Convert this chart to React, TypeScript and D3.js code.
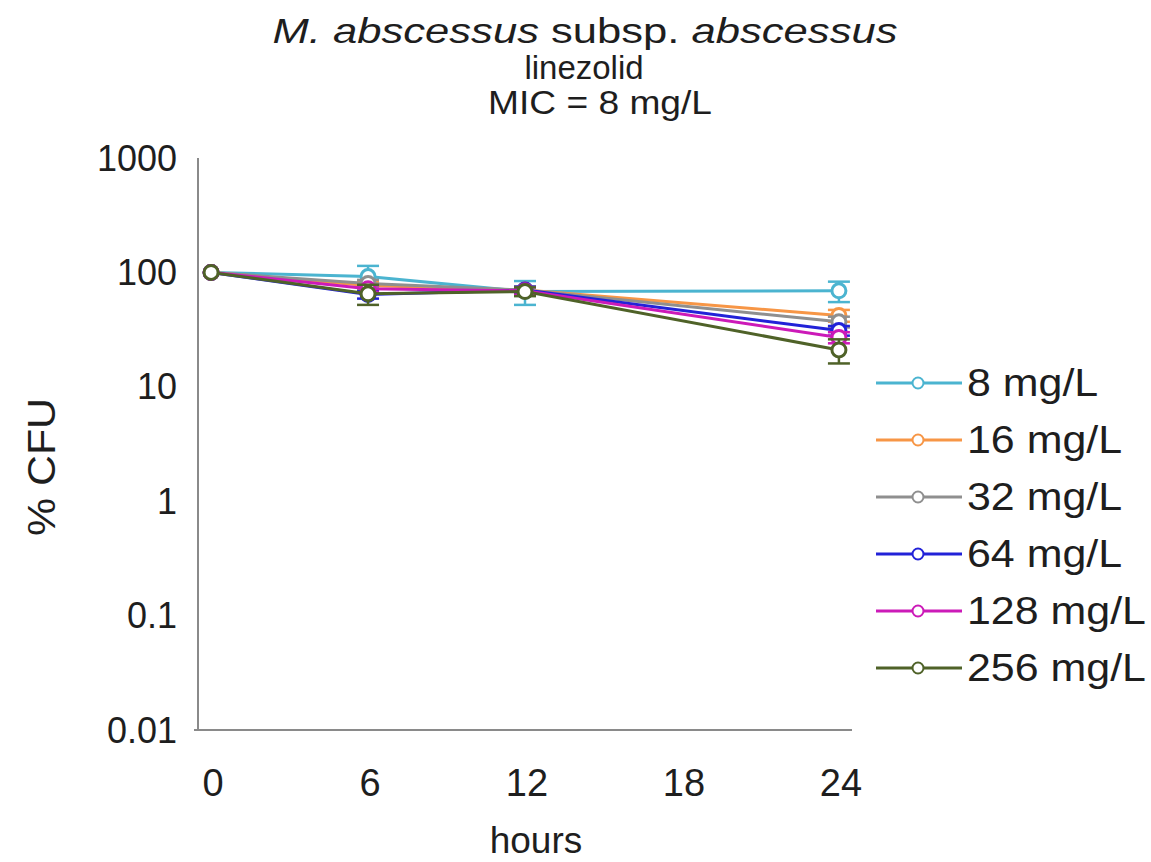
import React from "react";
import * as d3 from "d3";

const hours = [0, 6, 12, 24];
const xTicks = [0, 6, 12, 18, 24];
const yTicks = [0.01, 0.1, 1, 10, 100, 1000];
const yTickLabels = ["0.01", "0.1", "1", "10", "100", "1000"];

const seriesNames = ["8 mg/L", "16 mg/L", "32 mg/L", "64 mg/L", "128 mg/L", "256 mg/L"];
const seriesColors = ["#4bb4d0", "#f79646", "#8f8f8f", "#2222d8", "#cc1ab8", "#4f6228"];

const cfu8 = [100, 92, 68, 69];
const cfu16 = [100, 77, 70, 42];
const cfu32 = [100, 80, 70, 37];
const cfu64 = [100, 64, 70, 31];
const cfu128 = [100, 72, 69, 27];
const cfu256 = [100, 65, 68, 21];

const err8 = [0, 22, 16, 14];
const err16 = [0, 6, 5, 5];
const err32 = [0, 6, 5, 4];
const err64 = [0, 5, 5, 3];
const err128 = [0, 5, 5, 3];
const err256 = [0, 13, 6, 5];

const seriesValues = [cfu8, cfu16, cfu32, cfu64, cfu128, cfu256];
const seriesErrors = [err8, err16, err32, err64, err128, err256];

const FONT = "'Liberation Sans', Arial, sans-serif";
const INK = "#1e1e1e";

export default function App() {
  const W = 1151;
  const H = 862;
  const x = d3.scaleLinear().domain([-0.5, 24.5]).range([198, 852]);
  const y = d3.scaleLog().domain([0.01, 1000]).range([730, 158]);
  const line = d3
    .line<number>()
    .x((_, i) => x(hours[i]))
    .y((d) => y(d));

  const legendX = 876;
  const legendY0 = 383;
  const legendStep = 57;

  return (
    <svg width={W} height={H} style={{ position: "absolute", left: 0, top: 0, background: "#fff" }}>
      <rect width={W} height={H} fill="#fff" />
      {/* Title */}
      <text
        x={585}
        y={43}
        textAnchor="middle"
        fontFamily={FONT}
        fontSize={35}
        fill={INK}
        textLength={625}
        lengthAdjust="spacingAndGlyphs"
      >
        <tspan fontStyle="italic">M. abscessus</tspan>
        <tspan> subsp. </tspan>
        <tspan fontStyle="italic">abscessus</tspan>
      </text>
      <text x={584} y={79} textAnchor="middle" fontFamily={FONT} fontSize={33} fill={INK}>
        linezolid
      </text>
      <text x={600} y={114} textAnchor="middle" fontFamily={FONT} fontSize={33} fill={INK} textLength={224} lengthAdjust="spacingAndGlyphs">
        MIC = 8 mg/L
      </text>

      {/* Axes */}
      <line x1={x(-0.5)} x2={x(-0.5)} y1={y(1000)} y2={y(0.01)} stroke="#8a8a8a" strokeWidth={2} />
      <line x1={x(-0.5) - 4} x2={x(24.5)} y1={y(0.01)} y2={y(0.01)} stroke="#8a8a8a" strokeWidth={2} />

      {yTicks.map((t, i) => (
        <text key={t} x={177} y={y(t)} dy="0.35em" textAnchor="end" fontFamily={FONT} fontSize={36} fill={INK}>
          {yTickLabels[i]}
        </text>
      ))}
      {xTicks.map((t) => (
        <text key={t} x={x(t) + 2} y={796} textAnchor="middle" fontFamily={FONT} fontSize={38} fill={INK}>
          {t}
        </text>
      ))}
      <text x={536} y={853} textAnchor="middle" fontFamily={FONT} fontSize={37} fill={INK}>
        hours
      </text>
      <text
        transform={`translate(55, 467) rotate(-90)`}
        textAnchor="middle"
        fontFamily={FONT}
        fontSize={38}
        fill={INK}
        textLength={138}
        lengthAdjust="spacingAndGlyphs"
      >
        % CFU
      </text>

      {/* Series */}
      {seriesValues.map((vals, s) => (
        <g key={s}>
          <path d={line(vals) || ""} fill="none" stroke={seriesColors[s]} strokeWidth={3} />
          {vals.map((v, i) => {
            const e = seriesErrors[s][i];
            if (!e) return null;
            const cx = x(hours[i]);
            return (
              <g key={"e" + i} stroke={seriesColors[s]} strokeWidth={2.5}>
                <line x1={cx} x2={cx} y1={y(v + e)} y2={y(Math.max(v - e, 0.01))} />
                <line x1={cx - 11} x2={cx + 11} y1={y(v + e)} y2={y(v + e)} />
                <line x1={cx - 11} x2={cx + 11} y1={y(v - e)} y2={y(v - e)} />
              </g>
            );
          })}
          {vals.map((v, i) => (
            <circle
              key={"c" + i}
              cx={x(hours[i])}
              cy={y(v)}
              r={7}
              fill="#fff"
              stroke={seriesColors[s]}
              strokeWidth={3}
            />
          ))}
        </g>
      ))}

      {/* Legend */}
      {seriesNames.map((n, i) => {
        const ly = legendY0 + i * legendStep;
        return (
          <g key={n}>
            <line x1={legendX} x2={legendX + 86} y1={ly} y2={ly} stroke={seriesColors[i]} strokeWidth={3} />
            <circle cx={legendX + 42} cy={ly} r={5.5} fill="#fff" stroke={seriesColors[i]} strokeWidth={2} />
            <text
              transform={`translate(${legendX + 91}, ${ly}) scale(1.13, 1)`}
              dy="0.35em"
              fontFamily={FONT}
              fontSize={38}
              fill={INK}
            >
              {n}
            </text>
          </g>
        );
      })}
    </svg>
  );
}
